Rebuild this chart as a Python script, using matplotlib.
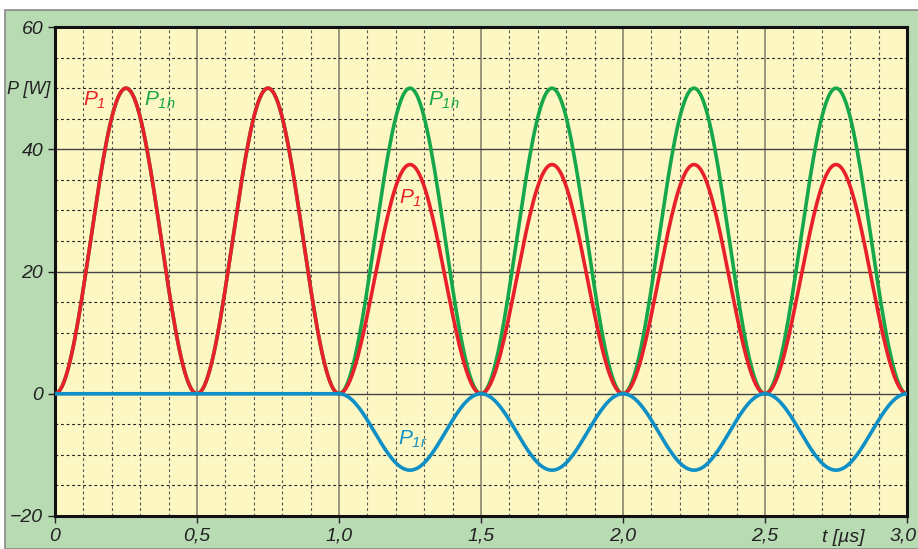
import numpy as np
import matplotlib.pyplot as plt
from matplotlib.patches import Rectangle
from matplotlib.ticker import MultipleLocator
from matplotlib.transforms import ScaledTranslation

plt.rcParams['font.family'] = ['Liberation Sans', 'DejaVu Sans']
plt.rcParams['mathtext.fontset'] = 'custom'
plt.rcParams['mathtext.it'] = 'Liberation Sans:italic'
plt.rcParams['mathtext.rm'] = 'Liberation Sans:italic'

# half-period intervals (µs) and peak power of each hump (W)
t_edges = [0.0, 0.5, 1.0, 1.5, 2.0, 2.5, 3.0]
p1h_peaks = [50, 50, 50, 50, 50, 50]
p1_peaks = [50, 50, 37.5, 37.5, 37.5, 37.5]
p1r_peaks = [0, 0, -12.5, -12.5, -12.5, -12.5]

x_ticks = [0, 0.5, 1.0, 1.5, 2.0, 2.5, 3.0]
x_ticklabels = ['0', '0,5', '1,0', '1,5', '2,0', '2,5', '3,0']
y_ticks = [-20, 0, 20, 40, 60]
y_ticklabels = ['\u221220', '0', '20', '40', '60']


def humps(peaks):
    # each hump follows a sin^2 shape between its two interval edges
    ts, ps = [], []
    for i, pk in enumerate(peaks):
        t = np.linspace(t_edges[i], t_edges[i + 1], 80)
        ph = (t - t_edges[i]) / (t_edges[i + 1] - t_edges[i])
        ts.append(t)
        ps.append(pk * np.sin(np.pi * ph) ** 2)
    return np.concatenate(ts), np.concatenate(ps)


fig = plt.figure(figsize=(9.18, 5.49), dpi=100)
fig.patch.set_facecolor('white')
bg = Rectangle((5 / 918, 0), 1, 1 - 10 / 549, transform=fig.transFigure,
               facecolor='#b8dbb3', edgecolor='#8a8a8a', lw=1.2, zorder=-5)
fig.add_artist(bg)

ax = fig.add_axes([55 / 918, 33 / 549, 852 / 918, 489 / 549], zorder=1)
ax.set_facecolor('#fdf7c3')
ax.set_xlim(0, 3.0)
ax.set_ylim(-20, 60)

ax.xaxis.set_minor_locator(MultipleLocator(0.1))
ax.yaxis.set_minor_locator(MultipleLocator(5))
ax.grid(which='minor', axis='x', color='#555555', ls=(0, (2.5, 2.5)), lw=0.8)
ax.grid(which='minor', axis='y', color='#222222', ls=(0, (2.5, 2.5)), lw=0.8)
ax.grid(which='major', axis='x', color='#8a8470', ls='-', lw=1.2)
ax.grid(which='major', axis='y', color='#444444', ls='-', lw=1.0)
ax.set_axisbelow(True)

for s in ax.spines.values():
    s.set_linewidth(2.2)
    s.set_color('#111111')

ax.set_xticks(x_ticks)
ax.set_xticklabels(x_ticklabels)
ax.set_yticks(y_ticks)
ax.set_yticklabels(y_ticklabels)
ax.tick_params(which='major', direction='out', length=5, width=1, color='#222222',
               labelsize=14, labelcolor='#222222')
ax.tick_params(which='minor', length=0)
for lab in ax.get_xticklabels() + ax.get_yticklabels():
    lab.set_style('italic')
# last x label sits at the right edge; nudge it in a little
last = ax.get_xticklabels()[-1]
last.set_transform(last.get_transform() + ScaledTranslation(-4 / 100, 0, fig.dpi_scale_trans))

lw = 2.6
t, p = humps(p1h_peaks)
ax.plot(t, p, color='#16a74b', lw=lw, zorder=3)
t, p = humps(p1_peaks)
ax.plot(t, p, color='#e8202a', lw=lw, zorder=4)
t, p = humps(p1r_peaks)
ax.plot(t, p, color='#0e8fc6', lw=lw, zorder=5)

ax.text(0.14, 48, r'$P_{1}$', color='#e8202a', fontsize=15, ha='center', va='center')
ax.text(0.37, 48, r'$P_{1h}$', color='#16a74b', fontsize=15, ha='center', va='center')
ax.text(1.37, 48, r'$P_{1h}$', color='#16a74b', fontsize=15, ha='center', va='center')
ax.text(1.25, 32, r'$P_{1}$', color='#e8202a', fontsize=15, ha='center', va='center')
ax.text(1.26, -7.5, r'$P_{1r}$', color='#0e8fc6', fontsize=15, ha='center', va='center')

fig.text(50 / 918, 1 - 89 / 549, 'P [W]', style='italic', fontsize=13, color='#222222',
         ha='right', va='center')
fig.text(843 / 918, 1 - 538 / 549, 't [\u00b5s]', style='italic', fontsize=14, color='#222222',
         ha='center', va='center')

fig.savefig('out.png', dpi=100)
